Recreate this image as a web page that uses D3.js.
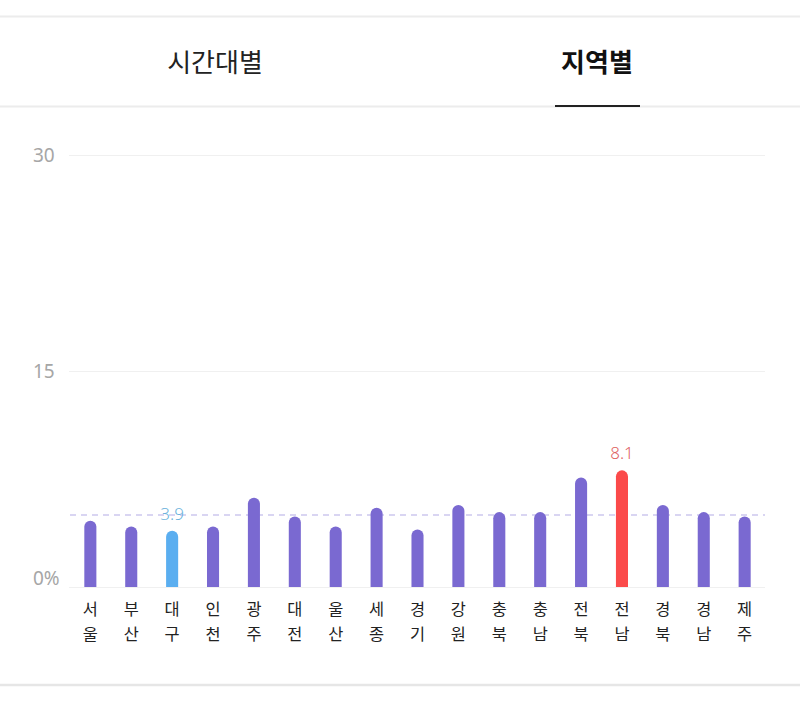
<!DOCTYPE html>
<html><head><meta charset="utf-8">
<script src="https://cdn.jsdelivr.net/npm/d3@7"></script>
<style>
html,body{margin:0;padding:0;background:#fff;}
svg{display:block;}
</style></head>
<body>
<svg id="chart" width="800" height="702"></svg>
<script>
const tabs = ["시간대별", "지역별"];
const regions = ["서울","부산","대구","인천","광주","대전","울산","세종","경기","강원","충북","충남","전북","전남","경북","경남","제주"];
const values = [4.6,4.2,3.9,4.2,6.2,4.9,4.2,5.5,4.0,5.7,5.2,5.2,7.6,8.1,5.7,5.2,4.9];
const average = [5.0];
const yTicks = [0,15,30];
const yTickLabels = ["0%","15","30"];

const svg = d3.select("#chart");
const font = "'Noto Sans CJK KR','Noto Sans',sans-serif";

// tab header
svg.append("rect").attr("x",0).attr("y",0).attr("width",800).attr("height",702).attr("fill","#fff");
svg.append("line").attr("x1",0).attr("x2",800).attr("y1",16.5).attr("y2",16.5).attr("stroke","#ececec").attr("stroke-width",2);
svg.append("line").attr("x1",0).attr("x2",800).attr("y1",106.5).attr("y2",106.5).attr("stroke","#ececec").attr("stroke-width",2);
svg.append("text").attr("x",215).attr("y",72).attr("text-anchor","middle")
  .attr("font-family",font).attr("font-size",26).attr("fill","#222").text(tabs[0]);
svg.append("text").attr("x",597).attr("y",72).attr("text-anchor","middle")
  .attr("font-family",font).attr("font-size",26).attr("font-weight","bold").attr("fill","#111").text(tabs[1]);
svg.append("line").attr("x1",555).attr("x2",640).attr("y1",106).attr("y2",106).attr("stroke","#222").attr("stroke-width",2);

// bottom border
svg.append("line").attr("x1",0).attr("x2",800).attr("y1",685).attr("y2",685).attr("stroke","#e6e6e6").attr("stroke-width",2.5);

const x = d3.scaleBand().domain(regions).range([70,765]).paddingInner(0.705).paddingOuter(0.35);
const y = d3.scaleLinear().domain([0,30]).range([587,155]);

// gridlines
const g = svg.append("g");
g.selectAll("line.grid").data(yTicks).join("line")
  .attr("x1",69).attr("x2",765)
  .attr("y1",d=>y(d)+0.5).attr("y2",d=>y(d)+0.5)
  .attr("stroke","#f0f0f0").attr("stroke-width",1.2);
g.selectAll("text.ylab").data(yTicks).join("text")
  .attr("x",33)
  .attr("y",(d,i)=> d===0 ? y(d)-2 : y(d)+7)
  .attr("font-family","'Noto Sans',sans-serif").attr("font-size",19)
  .attr("fill","#a6a6a6").text((d,i)=>yTickLabels[i]);

// average dashed line
svg.selectAll("line.avg").data(average).join("line")
  .attr("x1",70).attr("x2",765)
  .attr("y1",d=>y(d)).attr("y2",d=>y(d))
  .attr("stroke","#cdc7ee").attr("stroke-width",1.5).attr("stroke-dasharray","6,5");

const maxV = d3.max(values), minV = d3.min(values);
const minIdx = values.indexOf(minV), maxIdx = values.indexOf(maxV);
function colorFor(i){ return i===maxIdx ? "#fb4a4a" : i===minIdx ? "#5aaef0" : "#7a69d1"; }

function barPath(x0,w,yTop,yBase){
  const r = w/2;
  return `M${x0},${yBase} L${x0},${yTop+r} A${r},${r} 0 0 1 ${x0+w},${yTop+r} L${x0+w},${yBase} Z`;
}
const data = regions.map((r,i)=>({r, v:values[i], i}));
svg.selectAll("path.bar").data(data).join("path")
  .attr("d",d=>barPath(x(d.r), x.bandwidth(), y(d.v), y(0)))
  .attr("fill",d=>colorFor(d.i));

// value labels for min and max
const lab = data.filter(d=>d.i===minIdx || d.i===maxIdx);
svg.selectAll("text.val").data(lab).join("text")
  .attr("x",d=>x(d.r)+x.bandwidth()/2)
  .attr("y",d=>y(d.v)-11)
  .attr("text-anchor","middle")
  .attr("font-family","'Noto Sans',sans-serif").attr("font-size",17).attr("font-weight",300)
  .attr("fill",d=>d.i===maxIdx ? "#e06464" : "#6ab2dc")
  .text(d=>d.v.toFixed(1));

// x labels (two lines, vertical)
const xl = svg.selectAll("g.xl").data(regions).join("g")
  .attr("class","xl")
  .attr("transform",d=>`translate(${x(d)+x.bandwidth()/2},0)`);
xl.append("text").attr("y",615).attr("text-anchor","middle")
  .attr("font-family",font).attr("font-size",16.4).attr("fill","#222").text(d=>d[0]);
xl.append("text").attr("y",639.5).attr("text-anchor","middle")
  .attr("font-family",font).attr("font-size",16.4).attr("fill","#222").text(d=>d[1]);
</script>
</body></html>
